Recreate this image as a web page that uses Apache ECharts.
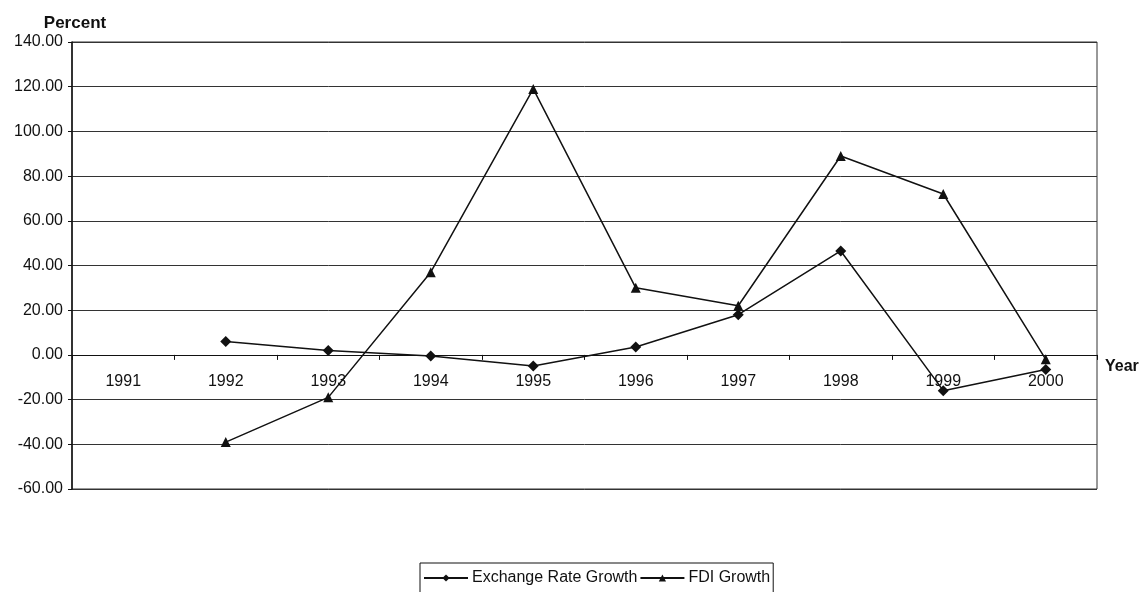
<!DOCTYPE html>
<html>
<head>
<meta charset="utf-8">
<script src="https://cdn.jsdelivr.net/npm/echarts@6/dist/echarts.min.js"></script>
<style>
  html, body { margin: 0; padding: 0; background: #fff; }
  #chart { width: 1142px; height: 592px; }
</style>
</head>
<body>
<div id="chart"></div>
<script>
// Annual growth rates, percent
const years = ['1991', '1992', '1993', '1994', '1995', '1996', '1997', '1998', '1999', '2000'];
const exchangeRateGrowth = [null, 6.0, 2.0, -0.5, -5.0, 3.5, 18.0, 46.5, -16.0, -6.5];
const fdiGrowth = [null, -39.0, -19.0, 37.0, 119.0, 30.0, 22.0, 89.0, 72.0, -2.0];
const yTicks = { min: -60, max: 140, step: 20 };

const font = 'Liberation Sans, Arial, sans-serif';
const ink = '#111';

// Plot box
const H = 592, gridTop = 42, gridBottom = 103;
const plotHeight = H - gridTop - gridBottom;
// Lift the category axis (line, ticks and labels) up to the zero line
const zeroOffset = -plotHeight * (0 - yTicks.min) / (yTicks.max - yTicks.min);

const chart = echarts.init(document.getElementById('chart'), null, { renderer: 'canvas' });
chart.setOption({
  backgroundColor: '#fff',
  animation: false,
  grid: {
    left: 72, right: 45, top: gridTop, bottom: gridBottom,
    show: true, borderColor: '#333', borderWidth: 1, backgroundColor: 'transparent'
  },
  legend: {
    left: 420, top: 563,
    orient: 'horizontal',
    borderColor: ink, borderWidth: 1,
    padding: [7, 3, 12, 3],
    itemGap: 2,
    itemWidth: 44, itemHeight: 9,
    textStyle: { fontFamily: font, fontSize: 16, color: ink, padding: [0, 0, 0, -1] },
    data: ['Exchange Rate Growth', 'FDI Growth']
  },
  xAxis: {
    type: 'category',
    data: years,
    boundaryGap: true,
    offset: zeroOffset,
    name: 'Year',
    nameLocation: 'end',
    nameGap: 8,
    nameTextStyle: {
      fontFamily: font, fontSize: 16, fontWeight: 'bold', color: ink,
      verticalAlign: 'top', padding: [4, 0, 0, 0]
    },
    axisLine: { onZero: false, lineStyle: { color: ink, width: 1 } },
    axisTick: { show: true, length: 5, lineStyle: { color: ink } },
    axisLabel: { fontFamily: font, fontSize: 16, color: ink, margin: 19 },
    splitLine: { show: false }
  },
  yAxis: {
    type: 'value',
    min: yTicks.min, max: yTicks.max, interval: yTicks.step,
    name: 'Percent',
    nameLocation: 'end',
    nameGap: 10,
    nameTextStyle: { fontFamily: font, fontSize: 17, fontWeight: 'bold', color: ink, padding: [0, 0, 0, 6] },
    axisLine: { show: true, lineStyle: { color: ink, width: 1.5 } },
    axisTick: { show: true, length: 4, lineStyle: { color: ink } },
    axisLabel: {
      fontFamily: font, fontSize: 16, color: ink, margin: 9,
      formatter: v => v.toFixed(2)
    },
    splitLine: { show: true, lineStyle: { color: '#333', width: 1 } }
  },
  series: [
    {
      name: 'Exchange Rate Growth',
      type: 'line',
      data: exchangeRateGrowth,
      symbol: 'diamond',
      symbolSize: 11,
      itemStyle: { color: ink },
      lineStyle: { color: ink, width: 1.5 },
      connectNulls: false
    },
    {
      name: 'FDI Growth',
      type: 'line',
      data: fdiGrowth,
      symbol: 'triangle',
      symbolSize: 10,
      itemStyle: { color: ink },
      lineStyle: { color: ink, width: 1.5 },
      connectNulls: false
    }
  ]
});
</script>
</body>
</html>
